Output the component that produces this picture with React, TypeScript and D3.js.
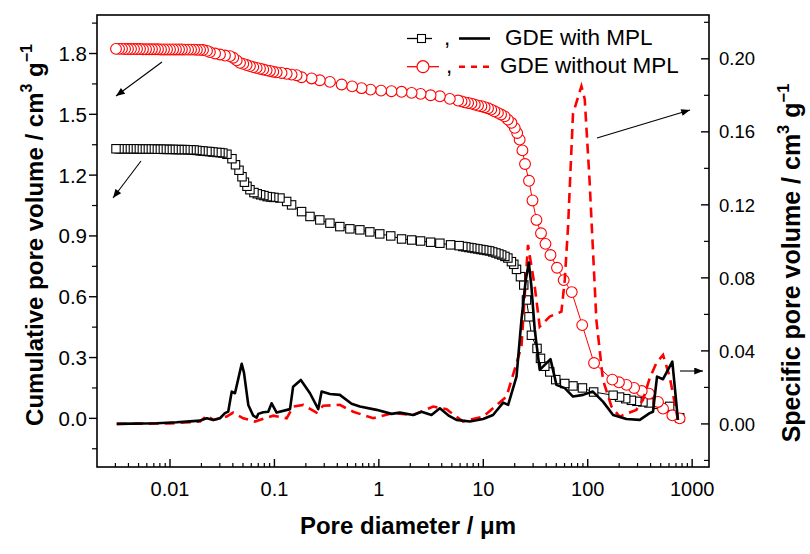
import React from "react";
import * as d3 from "d3";

// ---------- data (pore diameter in µm) ----------
const cumDiamMPL = [0.00304,0.00325,0.00347,0.00371,0.00396,0.00423,0.00452,0.00483,0.00516,0.00551,0.00589,0.00629,0.00672,0.00718,0.00767,0.0082,0.00876,0.00936,0.01,0.0107,0.0114,0.0122,0.013,0.0139,0.0149,
  0.0159,0.017,0.0181,0.0194,0.0207,0.0226,0.0241,0.0258,0.0281,0.0301,0.0321,0.0351,
  0.0392,0.0424,0.0458,0.0489,0.0516,0.0546,0.0583,0.0637,0.0685,0.0738,0.0794,0.0853,0.092,0.0989,
  0.113,0.131,0.146,0.182,0.219,0.272,0.34,0.423,0.528,0.658,0.82,1.02,1.3,1.65,2.06,2.51,3.13,3.84,4.86,5.87,
  6.37,6.8,7.27,7.76,8.29,8.86,9.47,10.1,10.8,11.5,12.3,13.2,14.1,15.0,16.1,17.2,
  18.6,19.6,20.8,22.7,24.4,25.9,27.4,28.9,32.7,35.3,38.8,43.3,49.4,60.3,72.3,89.0,114,175,202,231,262,296,338,386,471,609,759];
const cumVolMPL = [1.330,1.330,1.330,1.330,1.330,1.330,1.330,1.329,1.329,1.329,1.329,1.329,1.328,1.328,1.328,1.328,1.327,1.327,1.327,1.327,1.326,1.326,1.326,1.326,1.325,
  1.325,1.324,1.322,1.320,1.319,1.317,1.316,1.314,1.312,1.311,1.309,1.303,
  1.281,1.251,1.224,1.192,1.165,1.145,1.128,1.114,1.108,1.103,1.099,1.094,1.092,1.090,
  1.087,1.070,1.053,1.020,0.996,0.979,0.963,0.946,0.935,0.930,0.920,0.910,0.900,0.885,0.880,0.875,0.869,0.864,0.856,0.852,
  0.848,0.846,0.843,0.841,0.838,0.836,0.833,0.831,0.828,0.826,0.821,0.816,0.811,0.806,0.799,0.791,
  0.773,0.760,0.735,0.699,0.658,0.584,0.501,0.410,0.345,0.296,0.257,0.229,0.191,0.172,0.160,0.150,0.130,0.114,0.105,0.097,0.089,0.084,0.081,0.076,0.069,0.059,0.003];

const cumDiamNoMPL = [0.00304,0.00325,0.00347,0.00371,0.00396,0.00423,0.00452,0.00483,0.00516,0.00551,0.00589,0.00629,0.00672,0.00718,0.00767,0.0082,0.00876,0.00936,0.01,0.0107,0.0114,0.0122,0.013,0.0139,0.0149,0.0159,0.017,0.0181,0.0194,0.0207,
  0.0226,0.0241,0.027,0.0301,0.0336,0.0375,0.0403,0.0435,0.0468,
  0.0503,0.0542,0.0583,0.0627,0.0676,0.0727,0.0781,0.0842,0.0906,0.0974,0.105,0.117,0.131,0.146,0.163,
  0.182,0.227,0.272,0.34,0.44,0.555,0.683,0.833,1.05,1.32,1.65,2.06,2.51,3.13,3.84,4.78,5.74,
  6.19,6.65,7.15,7.7,8.29,8.91,9.59,10.3,11.1,11.9,12.8,13.8,14.8,16.0,17.2,18.6,20.0,21.1,22.3,23.7,25.1,27.4,29.6,32.3,35.7,39.4,44.0,50.8,58.9,70.3,88.6,115,172,199,235,278,329,386,471,526,646,759];
const cumVolNoMPL = [1.823,1.823,1.823,1.822,1.822,1.822,1.822,1.822,1.822,1.821,1.821,1.821,1.821,1.821,1.821,1.820,1.820,1.820,1.820,1.820,1.820,1.820,1.820,1.819,1.819,1.819,1.819,1.818,1.818,1.817,
  1.813,1.807,1.800,1.795,1.790,1.787,1.779,1.766,1.754,
  1.749,1.743,1.738,1.733,1.729,1.725,1.721,1.717,1.714,1.710,1.707,1.704,1.700,1.696,1.693,
  1.683,1.677,1.668,1.660,1.647,1.638,1.629,1.622,1.617,1.614,1.611,1.606,1.601,1.594,1.589,1.576,1.568,
  1.564,1.559,1.556,1.553,1.548,1.543,1.540,1.535,1.530,1.523,1.515,1.507,1.499,1.490,1.474,1.458,1.433,1.408,1.375,1.322,1.255,1.172,1.075,0.979,0.913,0.861,0.806,0.743,0.682,0.623,0.460,0.273,0.191,0.178,0.165,0.150,0.135,0.122,0.081,0.048,0.015,0.0];

const specDiamMPL = [0.00309,0.00746,0.0116,0.0155,0.0194,0.0225,0.026,0.0301,0.0336,0.0361,0.039,0.0419,0.0486,0.0511,0.0562,0.0627,0.0676,0.07,0.0781,0.0873,0.094,0.105,0.141,0.151,0.179,0.219,0.263,0.283,0.34,0.423,0.548,0.658,0.951,1.32,1.59,2.13,2.56,3.19,3.84,4.71,5.54,7.43,9.96,12.4,15.5,17.3,20.8,23.2,25.5,27.3,28.9,31.1,34.7,40.3,44.0,50.2,60.3,72.3,90.2,112,140,175,235,315,392,422,461,526,646,731];
const specVolMPL = [0,0.0004,0.0009,0.0014,0.0018,0.0031,0.0022,0.0031,0.0059,0.0067,0.0177,0.0168,0.0329,0.0281,0.0104,0.0045,0.0034,0.0055,0.0064,0.0067,0.0113,0.0062,0.0081,0.0204,0.0241,0.0168,0.0081,0.0177,0.0164,0.0159,0.0110,0.0095,0.0077,0.0055,0.0062,0.0049,0.0067,0.0049,0.0086,0.0044,0.0022,0.0013,0.0027,0.0049,0.0117,0.0104,0.0259,0.0570,0.0789,0.0884,0.0752,0.0515,0.0296,0.0333,0.0355,0.0214,0.0196,0.0150,0.0159,0.0177,0.0122,0.0049,0.0027,0.0022,0.0059,0.0067,0.0259,0.0245,0.0341,0.0022];

const specDiamNoMPL = [0.00309,0.01,0.0194,0.0225,0.026,0.0349,0.0403,0.0503,0.0651,0.0974,0.131,0.151,0.189,0.253,0.293,0.423,0.568,0.882,1.37,2.13,3.31,4.45,4.78,6.41,9.96,16.7,23.2,26.8,31.1,34.7,43.3,56.0,60.3,64.8,72.3,87.0,93.6,104,121,140,169,202,292,338,392,454,526,609,731];
const specVolNoMPL = [0,0.0003,0.0013,0.0045,0.0022,0.0040,0.0062,0.0031,0.0013,0.0045,0.0031,0.0095,0.0104,0.0062,0.0100,0.0104,0.0067,0.0031,0.0059,0.0049,0.0095,0.0081,0.0067,0.0013,0.0040,0.0150,0.0424,0.0981,0.0752,0.0533,0.0588,0.0615,0.0789,0.108,0.170,0.185,0.178,0.134,0.057,0.0241,0.0095,0.0040,0.0077,0.0132,0.0250,0.0333,0.0378,0.0259,0.0022];

const xTickValues = [0.01, 0.1, 1, 10, 100, 1000];
const xTickLabels = ["0.01", "0.1", "1", "10", "100", "1000"];
const leftTickValues = [0.0, 0.3, 0.6, 0.9, 1.2, 1.5, 1.8];
const leftMinorValues = [-0.15, 0.15, 0.45, 0.75, 1.05, 1.35, 1.65, 1.95];
const rightTickValues = [0.0, 0.04, 0.08, 0.12, 0.16, 0.2];
const rightMinorValues = [-0.02, 0.02, 0.06, 0.1, 0.14, 0.18, 0.22];

const FONT = "'Liberation Sans', Arial, Helvetica, sans-serif";
const L = 97, R = 709, T = 15, B = 467;

export default function App() {
  const x = d3.scaleLog().domain([0.002, 1450]).range([L, R]);
  const yL = d3.scaleLinear().domain([-0.24, 1.99]).range([B, T]);
  const yR = d3.scaleLinear().domain([-0.0236, 0.224]).range([B, T]);

  const zip = (a: number[], b: number[]) => a.map((v, i) => [v, b[i]] as [number, number]);
  const cumMPL = zip(cumDiamMPL, cumVolMPL);
  const cumNo = zip(cumDiamNoMPL, cumVolNoMPL);
  const spMPL = zip(specDiamMPL, specVolMPL);
  const spNo = zip(specDiamNoMPL, specVolNoMPL);

  const lineL = d3.line<[number, number]>().x(d => x(d[0])).y(d => yL(d[1]));
  const lineR = d3.line<[number, number]>().x(d => x(d[0])).y(d => yR(d[1]));

  const minorX: number[] = [];
  for (let e = -3; e <= 3; e++) {
    for (let m = 2; m <= 9; m++) {
      const v = m * Math.pow(10, e);
      if (v > 0.002 && v < 1450) minorX.push(v);
    }
  }

  const sq = 8.4;
  const cr = 5.4;

  return (
    <svg width={810} height={554} style={{ position: "absolute", left: 0, top: 0, background: "#fff" }} fontFamily={FONT}>
      <defs>
        <marker id="ah" viewBox="0 0 10 8" refX={10} refY={4} markerWidth={10} markerHeight={7} markerUnits="userSpaceOnUse" orient="auto">
          <path d="M0,0L10,4L0,8z" fill="#000" />
        </marker>
      </defs>
      <rect x={0} y={0} width={810} height={554} fill="#fff" />

      {/* cumulative, with MPL */}
      <path d={lineL(cumMPL) || ""} fill="none" stroke="#000" strokeWidth={1} />
      {cumMPL.slice().reverse().map((d, i) => (
        <rect key={"s" + i} x={x(d[0]) - sq / 2} y={yL(d[1]) - sq / 2} width={sq} height={sq} fill="#fff" stroke="#000" strokeWidth={1.1} />
      ))}
      {/* cumulative, without MPL */}
      <path d={lineL(cumNo) || ""} fill="none" stroke="#ff0000" strokeWidth={1} />
      {cumNo.slice().reverse().map((d, i) => (
        <circle key={"c" + i} cx={x(d[0])} cy={yL(d[1])} r={cr} fill="#fff" stroke="#ff0000" strokeWidth={1.1} />
      ))}

      {/* specific pore volume */}
      <path d={lineR(spNo) || ""} fill="none" stroke="#ff0000" strokeWidth={2.6} strokeDasharray="10,6" />
      <path d={lineR(spMPL) || ""} fill="none" stroke="#000" strokeWidth={2.6} strokeLinejoin="round" />

      {/* frame */}
      <rect x={L} y={T} width={R - L} height={B - T} fill="none" stroke="#000" strokeWidth={1.6} />

      {/* bottom axis ticks (inward) */}
      {xTickValues.map((v, i) => (
        <g key={"xt" + i}>
          <line x1={x(v)} x2={x(v)} y1={B} y2={B - 8} stroke="#000" strokeWidth={1.4} />
          <text x={x(v)} y={495.5} textAnchor="middle" fontSize={20}>{xTickLabels[i]}</text>
        </g>
      ))}
      {minorX.map((v, i) => (
        <line key={"xm" + i} x1={x(v)} x2={x(v)} y1={B} y2={B - 4} stroke="#000" strokeWidth={1.2} />
      ))}

      {/* left axis ticks (outward) */}
      {leftTickValues.map((v, i) => (
        <g key={"lt" + i}>
          <line x1={L} x2={L - 8} y1={yL(v)} y2={yL(v)} stroke="#000" strokeWidth={1.4} />
          <text x={87} y={yL(v)} dy="0.36em" textAnchor="end" fontSize={20.5}>{v.toFixed(1)}</text>
        </g>
      ))}
      {leftMinorValues.map((v, i) => (
        <line key={"lm" + i} x1={L} x2={L - 5} y1={yL(v)} y2={yL(v)} stroke="#000" strokeWidth={1.2} />
      ))}

      {/* right axis ticks (inward) */}
      {rightTickValues.map((v, i) => (
        <g key={"rt" + i}>
          <line x1={R} x2={R - 8} y1={yR(v)} y2={yR(v)} stroke="#000" strokeWidth={1.4} />
          <text x={719} y={yR(v)} dy="0.36em" textAnchor="start" fontSize={18.5}>{v.toFixed(2)}</text>
        </g>
      ))}
      {rightMinorValues.map((v, i) => (
        <line key={"rm" + i} x1={R} x2={R - 5} y1={yR(v)} y2={yR(v)} stroke="#000" strokeWidth={1.2} />
      ))}

      {/* axis titles */}
      <text x={408} y={534} textAnchor="middle" fontSize={24} fontWeight="bold">Pore diameter / μm</text>
      <text transform="translate(43,235) rotate(-90)" textAnchor="middle" fontSize={24} fontWeight="bold">
        Cumulative pore volume / cm<tspan dy={-11} fontSize={16}>3</tspan><tspan dy={11}> g</tspan><tspan dy={-11} fontSize={16}>−1</tspan>
      </text>
      <text transform="translate(800,263) rotate(-90)" textAnchor="middle" fontSize={25} fontWeight="bold">
        Specific pore volume / cm<tspan dy={-11} fontSize={16.5}>3</tspan><tspan dy={11}> g</tspan><tspan dy={-11} fontSize={16.5}>−1</tspan>
      </text>

      {/* arrows */}
      <line x1={162} y1={62} x2={116} y2={96} stroke="#000" strokeWidth={1.1} markerEnd="url(#ah)" />
      <line x1={141} y1={161} x2={113} y2={198} stroke="#000" strokeWidth={1.1} markerEnd="url(#ah)" />
      <line x1={597} y1={138} x2={690} y2={110} stroke="#000" strokeWidth={1.1} markerEnd="url(#ah)" />
      <line x1={680} y1={371} x2={703} y2={371} stroke="#000" strokeWidth={1.1} markerEnd="url(#ah)" />

      {/* legend */}
      <line x1={407} x2={432} y1={38.5} y2={38.5} stroke="#000" strokeWidth={1.3} />
      <rect x={421.5 - 4} y={38.5 - 4} width={8} height={8} fill="#fff" stroke="#000" strokeWidth={1.1} />
      <text x={444} y={45} fontSize={22.5}>,</text>
      <line x1={459} x2={490} y1={38.5} y2={38.5} stroke="#000" strokeWidth={2.6} />
      <text x={505} y={45} fontSize={22.5}>GDE with MPL</text>

      <line x1={407} x2={439} y1={66.7} y2={66.7} stroke="#ff0000" strokeWidth={1.3} />
      <circle cx={423} cy={66.7} r={6} fill="#fff" stroke="#ff0000" strokeWidth={1.2} />
      <text x={446} y={73.3} fontSize={22.5}>,</text>
      <line x1={459} x2={490} y1={66.7} y2={66.7} stroke="#ff0000" strokeWidth={2.6} strokeDasharray="6,6" />
      <text x={500} y={73.3} fontSize={22.5}>GDE without MPL</text>
    </svg>
  );
}
